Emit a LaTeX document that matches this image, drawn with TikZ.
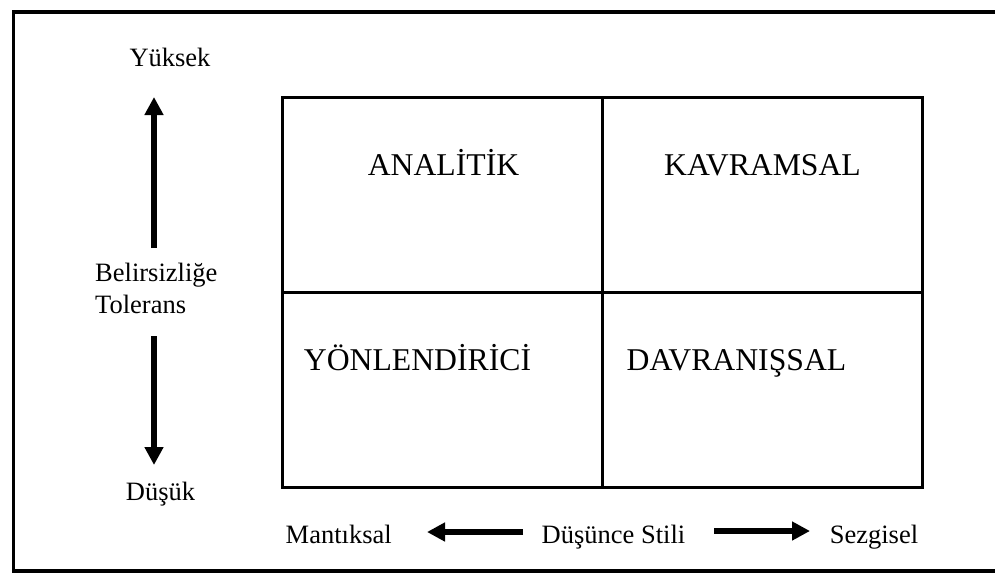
\documentclass[tikz,border=0pt]{standalone}
\usepackage{fontspec}
\setmainfont{Liberation Serif}
\usetikzlibrary{arrows.meta}
\begin{document}
\begin{tikzpicture}[x=1pt,y=-1pt,
  lbl/.style={anchor=base, inner sep=0pt, font=\fontsize{26.5}{32}\selectfont},
  quad/.style={anchor=base, inner sep=0pt, font=\fontsize{31.7}{38}\selectfont},
  bigarrow/.style={line width=5.5pt, -{Triangle[length=18pt,width=18pt]}},
  outerframe/.style={line width=3.6pt},
  gridline/.style={line width=3pt}]
\clip (0,0) rectangle (995,574);
% outer frame (open to the right edge of the page)
\draw[outerframe] (1010,11.7) -- (13.3,11.7) -- (13.3,571) -- (1010,571);
% 2x2 matrix
\draw[gridline] (282,97) rectangle (922,487);
\draw[gridline] (602,97) -- (602,487);
\draw[gridline] (282,292) -- (922,292);
% quadrant labels
\node[quad] (analitik) at (443.5,175) {ANALİTİK};
\node[quad] (kavramsal) at (762.5,175) {KAVRAMSAL};
\node[quad] (yonlendirici) at (417.5,370) {YÖNLENDİRİCİ};
\node[quad] (davranissal) at (736.5,370) {DAVRANIŞSAL};
% vertical axis
\node[lbl] (yuksek) at (170,66.7) {Yüksek};
\node[lbl] (dusuk) at (160.5,500) {Düşük};
\node[lbl, anchor=base west] (belirsizlige) at (95,281) {Belirsizliğe};
\node[lbl, anchor=base west] (tolerans) at (95,313) {Tolerans};
\coordinate (upS) at (154,248);
\coordinate (upE) at (154,97);
\coordinate (dnS) at (154,336);
\coordinate (dnE) at (154,465);
\draw[bigarrow] (upS) -- (upE);
\draw[bigarrow] (dnS) -- (dnE);
% horizontal axis
\node[lbl, anchor=base west] (mantiksal) at (285.5,543) {Mantıksal};
\node[lbl] (dusunce) at (613.5,543) {Düşünce Stili};
\node[lbl] (sezgisel) at (874,543) {Sezgisel};
\coordinate (ltS) at (523,532);
\coordinate (ltE) at (427,532);
\coordinate (rtS) at (714,531);
\coordinate (rtE) at (810,531);
\draw[bigarrow] (ltS) -- (ltE);
\draw[bigarrow] (rtS) -- (rtE);
\end{tikzpicture}
\end{document}
